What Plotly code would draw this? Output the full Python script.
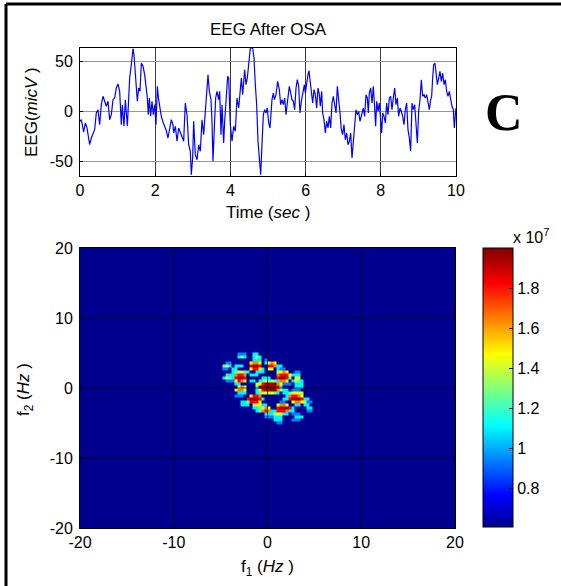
import plotly.graph_objects as go

# ---------------- data ----------------
TITLE = "EEG After OSA"

TIME_S = [
    0.0, 0.035, 0.097, 0.142, 0.186, 0.257, 0.301, 0.346, 0.39, 0.434, 0.479, 0.523, 0.567, 0.612,
    0.656, 0.70, 0.745, 0.789, 0.833, 0.878, 0.922, 0.966, 1.011, 1.055, 1.099, 1.126, 1.17, 1.206,
    1.259, 1.285, 1.321, 1.365, 1.41, 1.436, 1.472, 1.498, 1.525, 1.56, 1.596, 1.631, 1.676, 1.72,
    1.764, 1.791, 1.817, 1.844, 1.879, 1.915, 1.95, 1.986, 2.021, 2.057, 2.092, 2.128, 2.163, 2.207,
    2.252, 2.296, 2.34, 2.385, 2.429, 2.473,
    2.491, 2.536, 2.58, 2.624, 2.669, 2.713, 2.757, 2.801, 2.846, 2.89, 2.934, 2.961, 2.996, 3.023,
    3.067, 3.112, 3.156, 3.2, 3.245, 3.289, 3.333, 3.378, 3.404, 3.44, 3.484, 3.511, 3.537, 3.573,
    3.608, 3.644, 3.688, 3.715, 3.75, 3.777, 3.821, 3.848, 3.892, 3.927, 3.954, 3.998, 4.043, 4.087,
    4.131, 4.176, 4.22, 4.264, 4.291, 4.326, 4.353, 4.379, 4.415, 4.45, 4.504, 4.53, 4.592, 4.628,
    4.663, 4.699, 4.734, 4.77, 4.805, 4.84, 4.876, 4.911, 4.947, 4.982,
    4.991, 5.018, 5.053, 5.08, 5.106, 5.142, 5.168, 5.213, 5.257, 5.301, 5.337, 5.372, 5.408, 5.443,
    5.479, 5.514, 5.567, 5.612, 5.638, 5.674, 5.709, 5.745, 5.78, 5.816, 5.851, 5.887, 5.922, 5.967,
    5.993, 6.028, 6.064, 6.09, 6.117, 6.152, 6.188, 6.223, 6.259, 6.294, 6.33, 6.365, 6.392, 6.427,
    6.454, 6.489, 6.525, 6.56, 6.596, 6.631, 6.667, 6.702, 6.738, 6.773, 6.809, 6.844, 6.879, 6.915,
    6.95, 6.986, 7.021, 7.057, 7.092, 7.128, 7.163, 7.199, 7.234, 7.27, 7.305, 7.34, 7.376, 7.411,
    7.447, 7.482,
    7.535, 7.571, 7.606, 7.642, 7.668, 7.695, 7.73, 7.766, 7.801, 7.837, 7.863, 7.89, 7.926, 7.961,
    7.996, 8.023, 8.05, 8.085, 8.121, 8.156, 8.191, 8.227, 8.262, 8.298, 8.333, 8.369, 8.404, 8.44,
    8.475, 8.511, 8.546, 8.582, 8.617, 8.652, 8.688, 8.723, 8.759, 8.794, 8.83, 8.865, 8.901, 8.936,
    8.972, 9.007, 9.043, 9.078, 9.113, 9.149, 9.184, 9.22, 9.255, 9.291, 9.326, 9.353, 9.379, 9.406,
    9.441, 9.468, 9.504, 9.539, 9.574, 9.61, 9.645, 9.681, 9.716, 9.752, 9.787, 9.823, 9.858, 9.894,
    9.929, 9.956, 9.982, 10.0,
]

EEG_UV = [
    -10.3, -8.7, -21, -12, -17, -33.7, -27, -22, -18.7, -2, 1.3, -13.7, 6.3, 14.7,
    9.7, 4.7, 9.7, -8.7, -3.7, 11.3, 13, 23, 27, 19.7, -13.7, 6.3, -15.3, 11.3,
    -15.3, 8, 33, 46.3, 62.3, 56.3, 39.7, 19.7, 9.7, 23, 19.7, 48, 44.7, 36.3,
    23, 13, -3.7, 13, -5.3, 9.7, -3.7, 6.3, -13.7, 24.7, 11.3, 1.3, -5.3, -11,
    -15.3, -19.7, -27, -17, -8.7, -13.7,
    -22, -15.3, -30.3, -17, -22, -27, -30.3, 8, -3.7, -33.7, -40.3, -63.7, -47, -10.3,
    -43.7, -48.7, -33.7, -40.3, -8.7, -23.7, 3, 23, 36.3, 19.7, 11.3, -10.3, -50.3, -17,
    13, 19.7, 11.3, 19.7, -23.7, 6.3, -32, -10.3, 23, 34.7, 33, -13.7, -30.3, -15.3,
    -20.3, 13, 3, 21.3, 33, 16.3, 28, 41.3, 26.3, 33, 53, 63, 63, 53,
    26.3, 6.3, -30.3, -53.7, -63.7, -33.7, -3.7, 1.3, -2, 3,
    -5.3, -12, -17, -0.3, 11.3, 18, 11.3, 16.3, 29.7, 21.3, 6.3, 11.3, 6.3, 13,
    -3.7, 8, 24.7, 16.3, 11.3, 9.7, 1.3, 23, 31.3, 24.7, -2, 9.7, 18, 26.3,
    18, 29.7, 36.3, 40.3, 33, 19.7, 8, 21.3, 16.3, 3, 23, 16.3, 4.7, 19.7,
    -2, -8.7, -22, -10.3, -17, -5.3, -17, 8, 14.7, 6.3, -2, 24.7, 13, -2,
    -18.7, -23.7, -13.7, -28.7, -22, -33.7, -30.3, -22, -47, -30.3, -18.7, 1.3, -3.7, -0.3,
    -10.3, -5.3,
    3, -5.3, 16.3, 13, -2, 18, 23, 8, 24.7, 3, -15.3, 9.7, -0.3, 8,
    -10.3, -22, -2, -5.3, -12, 8, -3.7, 13, 14.7, 1.3, 13, 23, 6.3, 13,
    -5.3, 3, -0.3, -5.3, -13.7, 1.3, 8, -18.7, -27, -40.3, 8, 1.3, 6.3, -17,
    -32, -0.3, 11.3, 31.3, 14.7, 16.3, 13, 16.3, 8, 1.3, 11.3, 14.7, 33, 46.3,
    48, 39.7, 26.3, 33, 39.7, 29.7, 38, 26.3, 31.3, 19.7, 14.7, 19.7, 11.3, 4.7,
    1.3, -17, -3.7, 3,
]

EEG_XTICKS = [0, 2, 4, 6, 8, 10]
EEG_YTICKS = [-50, 0, 50]

# bispectrum cell centres (Hz)
F1_HZ = [-4.64, -4.32, -4.0, -3.68, -3.36, -3.04, -2.72, -2.4, -2.08, -1.76, -1.44, -1.12,
         -0.8, -0.48, -0.16, 0.16, 0.48, 0.8, 1.12, 1.44, 1.76, 2.08, 2.4, 2.72, 3.04, 3.36,
         3.68, 4.0, 4.32, 4.64, 4.96]
F2_HZ = [4.86, 4.43, 4.0, 3.57, 3.14, 2.71, 2.29, 1.86, 1.43, 1.0, 0.57, 0.14, -0.29, -0.71,
         -1.14, -1.57, -2.0, -2.43, -2.86, -3.29, -3.71, -4.14, -4.57, -5.0]

# intensity level of each cell, row = F2_HZ (top to bottom), column = F1_HZ; '.' = floor level
BISPEC_LEVELS = [
    ".....222..33",
    ".....343..353",
    "..........333.2",
    ".22......6776.3676",
    "453.333..8998..88733",
    "22.33....68863.56.322",
    "...345543..333....5676..22",
    ".3337887.333......78886333",
    "35438998.....333..89984.65",
    ".2226875.33.3454543776.3543",
    "....33.....568999976222.333",
    ".....675...499999983....333",
    "....5775...35899997533.222",
    ".....333...34565643.3345665",
    "....222..6887........378876",
    "........899983......338999833",
    "......3348886......22..6776522",
    "......333.56533...6776..33.33",
    "..........334676..899983....33",
    "...........3478733888733....22",
    "..............33356533.222",
    "..............222333....333",
    ".................333...222",
    "..................22",
]
# level -> value (x 1e7)
LEVEL_VALUE = {"1": 0.77, "2": 0.94, "3": 1.10, "4": 1.25, "5": 1.38,
               "6": 1.47, "7": 1.65, "8": 1.82, "9": 1.97}
FLOOR_VALUE = 0.61
CB_MIN, CB_MAX = 0.61, 2.0
CB_TICKS = [0.8, 1.0, 1.2, 1.4, 1.6, 1.8]
CB_LABELS = ["0.8", "1", "1.2", "1.4", "1.6", "1.8"]
HM_TICKS = [-20, -10, 0, 10, 20]
HM_GRID = [-10, 0, 10]

# ---------------- figure ----------------
W, H = 561, 586
FONT = "Liberation Sans, Arial, Helvetica, sans-serif"
TICK_SIZE = 16
LABEL_SIZE = 17


def px(x):
    return x / W


def py(y):
    return 1 - y / H


def hyphen_labels(vals):
    return [str(v).replace("\u2212", "-") for v in vals]


JET = [[0.0, "rgb(0,0,143)"], [0.111, "rgb(0,0,255)"], [0.365, "rgb(0,255,255)"],
       [0.619, "rgb(255,255,0)"], [0.873, "rgb(255,0,0)"], [1.0, "rgb(128,0,0)"]]

ncol = len(F1_HZ)
Z = []
for row in BISPEC_LEVELS:
    row = row.ljust(ncol, ".")[:ncol]
    Z.append([LEVEL_VALUE.get(ch) for ch in row])

n = min(len(TIME_S), len(EEG_UV))

fig = go.Figure()
fig.add_trace(go.Scatter(x=TIME_S[:n], y=EEG_UV[:n], mode="lines",
                         line=dict(color="rgb(0,0,255)", width=1.2),
                         xaxis="x", yaxis="y", showlegend=False, hoverinfo="skip"))
fig.add_trace(go.Heatmap(x=[-20, 20], y=[-20, 20], z=[[FLOOR_VALUE]], coloraxis="coloraxis",
                         xaxis="x2", yaxis="y2", hoverinfo="skip"))
fig.add_trace(go.Heatmap(x=F1_HZ, y=F2_HZ, z=Z, coloraxis="coloraxis",
                         xaxis="x2", yaxis="y2", zsmooth=False, hoverinfo="skip"))

axis_common = dict(showline=True, linecolor="black", linewidth=1, mirror=True,
                   ticks="inside", ticklen=3, tickcolor="black", zeroline=False,
                   automargin=False,
                   tickfont=dict(family=FONT, size=TICK_SIZE, color="black"), fixedrange=True)

fig.update_layout(
    width=W, height=H, autosize=False,
    margin=dict(l=0, r=0, t=0, b=0, pad=0, autoexpand=False),
    paper_bgcolor="white", plot_bgcolor="white",
    font=dict(family=FONT, size=TICK_SIZE, color="black"),
    showlegend=False,
    xaxis=dict(domain=[px(80), px(456)], range=[0, 10], tickvals=EEG_XTICKS,
               ticktext=hyphen_labels(EEG_XTICKS),
               showgrid=True, gridcolor="rgb(60,60,60)", gridwidth=1, anchor="y",
               **axis_common),
    yaxis=dict(domain=[py(176), py(48)], range=[-65, 63], tickvals=EEG_YTICKS,
               ticktext=hyphen_labels(EEG_YTICKS),
               showgrid=True, gridcolor="rgb(150,150,150)", gridwidth=1, anchor="x",
               ticklabelstandoff=3, **axis_common),
    xaxis2=dict(domain=[px(80), px(455)], range=[-20, 20], tickvals=HM_TICKS,
                ticktext=hyphen_labels(HM_TICKS),
                showgrid=False, anchor="y2", **axis_common),
    yaxis2=dict(domain=[py(528), py(248)], range=[-20, 20], tickvals=HM_TICKS,
                ticktext=hyphen_labels(HM_TICKS),
                showgrid=False, anchor="x2", ticklabelstandoff=3, **axis_common),
    coloraxis=dict(
        colorscale=JET, cmin=CB_MIN, cmax=CB_MAX,
        colorbar=dict(x=px(483), xanchor="left", y=py(387.5), yanchor="middle",
                      thickness=30, thicknessmode="pixels", len=279, lenmode="pixels",
                      xpad=0, ypad=0, outlinewidth=1, outlinecolor="black",
                      ticks="inside", ticklen=4, tickcolor="black",
                      tickvals=CB_TICKS, ticktext=CB_LABELS,
                      tickfont=dict(family=FONT, size=TICK_SIZE, color="black")),
    ),
)

shapes = []
for v in HM_GRID:
    shapes.append(dict(type="line", xref="x2", yref="y2", x0=v, x1=v, y0=-20, y1=20,
                       line=dict(color="rgba(0,0,0,0.65)", width=1), layer="above"))
    shapes.append(dict(type="line", xref="x2", yref="y2", x0=-20, x1=20, y0=v, y1=v,
                       line=dict(color="rgba(0,0,0,0.65)", width=1), layer="above"))
# figure frame (left and top edges)
shapes.append(dict(type="line", xref="paper", yref="paper", x0=px(6), x1=px(6), y0=0, y1=py(4),
                   line=dict(color="black", width=3)))
shapes.append(dict(type="line", xref="paper", yref="paper", x0=px(6), x1=1, y0=py(4), y1=py(4),
                   line=dict(color="black", width=3)))
fig.update_layout(shapes=shapes)

ann = [
    dict(text=TITLE, x=px(268), y=py(30)),
    dict(text="Time (<i>sec</i> )", x=px(268), y=py(213)),
    dict(text="EEG(<i>micV</i> )", x=px(32), y=py(112), textangle=-90),
    dict(text="f<sub>1</sub> (<i>Hz</i> )", x=px(267), y=py(568)),
    dict(text="f<sub>2</sub> (<i>Hz</i> )", x=px(25), y=py(390), textangle=-90),
    dict(text="x 10<sup>7</sup>", x=px(531), y=py(236), font=dict(family=FONT, size=TICK_SIZE, color="black")),
    dict(text="<b>C</b>", x=px(503.5), y=py(112.5),
         font=dict(family="Liberation Serif, Times New Roman, serif", size=52, color="black")),
]
for a in ann:
    a.setdefault("font", dict(family=FONT, size=LABEL_SIZE, color="black"))
    a.update(xref="paper", yref="paper", showarrow=False, xanchor="center", yanchor="middle")
fig.update_layout(annotations=ann)

# remove the browser's default 8px page margin so the figure sits at the window origin
fig.write_html("out.html", config={"displayModeBar": False},
               post_script="document.body.style.margin='0';")
